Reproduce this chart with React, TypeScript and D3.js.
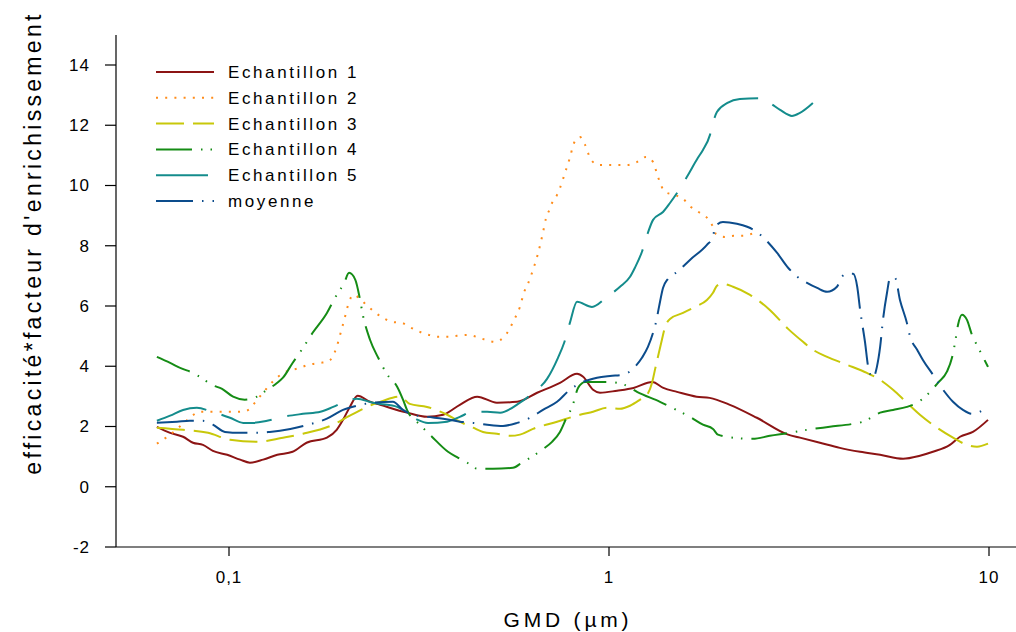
import React from "react";
import * as d3 from "d3";

const xTicks = [0.1, 1, 10];
const xTickLabels = ["0,1", "1", "10"];
const yTicks = [-2, 0, 2, 4, 6, 8, 10, 12, 14];

const seriesNames = ["Echantillon 1", "Echantillon 2", "Echantillon 3", "Echantillon 4", "Echantillon 5", "moyenne"];

const echantillon1: [number, number][] = [
  [0.0646, 1.99], [0.07, 1.79], [0.0757, 1.66], [0.0804, 1.46], [0.0854, 1.39], [0.0907, 1.19], [0.0989, 1.06],
  [0.107, 0.9], [0.1135, 0.8], [0.123, 0.9], [0.134, 1.06], [0.147, 1.16], [0.16, 1.46], [0.181, 1.63],
  [0.192, 1.89], [0.1995, 2.22], [0.208, 2.65], [0.218, 3.02], [0.235, 2.82], [0.25, 2.72], [0.294, 2.46],
  [0.332, 2.32], [0.366, 2.39], [0.405, 2.72], [0.45, 2.99], [0.507, 2.79], [0.573, 2.82], [0.647, 3.12],
  [0.743, 3.45], [0.824, 3.75], [0.855, 3.65], [0.908, 3.22], [0.947, 3.12], [1.05, 3.19], [1.16, 3.28],
  [1.3, 3.48], [1.39, 3.28], [1.51, 3.15], [1.7, 2.99], [1.84, 2.95], [2.08, 2.72], [2.45, 2.29],
  [2.96, 1.73], [3.18, 1.63], [3.59, 1.46], [4.05, 1.29], [4.58, 1.16], [5.17, 1.06], [5.94, 0.93],
  [6.58, 1.03], [7.12, 1.16], [7.89, 1.39], [8.39, 1.66], [9.07, 1.82], [9.94, 2.22],
];

const echantillon2: [number, number][] = [
  [0.0646, 1.43], [0.0683, 1.63], [0.0721, 1.86], [0.0752, 2.06], [0.0789, 2.29], [0.0839, 2.49], [0.0936, 2.49],
  [0.105, 2.49], [0.111, 2.52], [0.117, 2.79], [0.121, 3.02], [0.126, 3.28], [0.131, 3.52], [0.138, 3.75],
  [0.154, 3.95], [0.162, 4.05], [0.173, 4.11], [0.182, 4.15], [0.192, 4.64], [0.197, 5.14], [0.202, 5.64],
  [0.207, 6.14], [0.213, 6.37], [0.221, 6.24], [0.231, 6.01], [0.254, 5.61], [0.27, 5.47], [0.285, 5.44],
  [0.301, 5.28], [0.318, 5.14], [0.336, 5.04], [0.357, 4.98], [0.377, 4.98], [0.398, 5.01], [0.423, 5.04],
  [0.447, 4.98], [0.472, 4.88], [0.501, 4.81], [0.53, 4.98], [0.546, 5.21], [0.559, 5.47], [0.573, 5.74],
  [0.583, 5.97], [0.597, 6.44], [0.612, 6.74], [0.631, 7.2], [0.65, 7.73], [0.67, 8.43], [0.683, 8.92],
  [0.695, 9.16], [0.708, 9.42], [0.73, 9.69], [0.743, 9.92], [0.766, 10.42], [0.789, 10.92], [0.809, 11.41],
  [0.839, 11.61], [0.865, 11.35], [0.897, 10.85], [0.941, 10.68], [0.994, 10.68], [1.056, 10.68], [1.115, 10.68],
  [1.185, 10.78], [1.251, 10.95], [1.306, 10.78], [1.345, 10.29], [1.403, 9.79], [1.483, 9.69], [1.566, 9.56],
  [1.643, 9.29], [1.735, 9.09], [1.822, 8.89], [1.878, 8.63], [1.913, 8.39], [2.02, 8.29], [2.13, 8.33],
  [2.25, 8.33], [2.44, 8.46],
];

const echantillon3: [number, number][] = [
  [0.0646, 1.96], [0.0757, 1.89], [0.0881, 1.79], [0.1006, 1.56], [0.1185, 1.49], [0.1387, 1.63], [0.1566, 1.76],
  [0.185, 2.02], [0.208, 2.36], [0.231, 2.65], [0.254, 2.85], [0.282, 2.99], [0.299, 2.75], [0.332, 2.65],
  [0.375, 2.39], [0.405, 2.16], [0.439, 1.96], [0.466, 1.82], [0.507, 1.76], [0.549, 1.69], [0.583, 1.73],
  [0.631, 1.92], [0.73, 2.16], [0.839, 2.39], [0.908, 2.49], [0.988, 2.62], [1.069, 2.59], [1.136, 2.69],
  [1.207, 2.89], [1.259, 3.05], [1.298, 3.45], [1.321, 3.88], [1.345, 4.31], [1.378, 4.88], [1.403, 5.28],
  [1.447, 5.57], [1.566, 5.77], [1.683, 5.97], [1.81, 6.2], [1.878, 6.44], [1.923, 6.67], [1.983, 6.74],
  [2.12, 6.64], [2.35, 6.37], [2.65, 5.87], [2.96, 5.24], [3.24, 4.81], [3.44, 4.55], [3.75, 4.31],
  [4.23, 4.05], [4.77, 3.78], [5.17, 3.55], [5.59, 3.22], [6.08, 2.79], [6.58, 2.39], [7.3, 1.96],
  [8.04, 1.63], [8.75, 1.39], [9.3, 1.33], [9.94, 1.43],
];

const echantillon4: [number, number][] = [
  [0.0646, 4.31], [0.07, 4.11], [0.0752, 3.92], [0.0804, 3.78], [0.0854, 3.58], [0.0902, 3.38], [0.0959, 3.25],
  [0.1025, 2.99], [0.11, 2.89], [0.1185, 2.99], [0.126, 3.22], [0.133, 3.42], [0.1387, 3.62], [0.147, 4.11],
  [0.1566, 4.61], [0.166, 5.11], [0.181, 5.77], [0.19, 6.27], [0.201, 6.77], [0.207, 7.1], [0.215, 6.87],
  [0.221, 6.24], [0.225, 5.71], [0.235, 4.88], [0.247, 4.28], [0.261, 3.72], [0.277, 3.32], [0.287, 2.89],
  [0.294, 2.55], [0.318, 2.06], [0.342, 1.66], [0.377, 1.16], [0.401, 0.96], [0.423, 0.8], [0.45, 0.6],
  [0.495, 0.6], [0.559, 0.63], [0.59, 0.8], [0.627, 1.0], [0.667, 1.23], [0.708, 1.49], [0.743, 1.82],
  [0.775, 2.32], [0.8, 2.65], [0.829, 3.28], [0.865, 3.48], [0.93, 3.48], [0.988, 3.48], [1.05, 3.45],
  [1.1, 3.38], [1.185, 3.15], [1.362, 2.82], [1.538, 2.49], [1.633, 2.32], [1.767, 2.06], [1.878, 1.92],
  [1.935, 1.73], [2.12, 1.63], [2.39, 1.59], [2.65, 1.69], [2.99, 1.79], [3.32, 1.89], [3.81, 1.99],
  [4.39, 2.09], [4.66, 2.16], [5.17, 2.46], [5.59, 2.55], [6.08, 2.65], [6.47, 2.79], [6.87, 3.05],
  [7.34, 3.45], [7.75, 3.82], [7.99, 4.28], [8.14, 4.78], [8.29, 5.38], [8.49, 5.71], [8.75, 5.54],
  [9.02, 5.04], [9.35, 4.64], [9.64, 4.31], [9.94, 3.98],
];

const echantillon5: [number, number][] = [
  [0.0646, 2.19], [0.07, 2.36], [0.0757, 2.55], [0.0823, 2.62], [0.0902, 2.49], [0.1006, 2.29], [0.109, 2.12],
  [0.1156, 2.12], [0.126, 2.19], [0.1387, 2.32], [0.1566, 2.42], [0.174, 2.49], [0.188, 2.65], [0.202, 2.82],
  [0.217, 2.92], [0.239, 2.79], [0.25, 2.75], [0.277, 2.65], [0.294, 2.46], [0.314, 2.22], [0.334, 2.12],
  [0.375, 2.16], [0.405, 2.32], [0.439, 2.49], [0.478, 2.49], [0.517, 2.46], [0.583, 2.79], [0.631, 3.12],
  [0.687, 3.58], [0.734, 4.28], [0.762, 4.78], [0.789, 5.44], [0.824, 6.14], [0.902, 5.97], [0.988, 6.3],
  [1.069, 6.64], [1.136, 6.97], [1.17, 7.27], [1.221, 7.8], [1.266, 8.43], [1.306, 8.86], [1.387, 9.12],
  [1.447, 9.42], [1.51, 9.75], [1.604, 10.29], [1.714, 10.92], [1.767, 11.18], [1.844, 11.68], [1.878, 12.08],
  [1.923, 12.44], [2.05, 12.74], [2.21, 12.87], [2.5, 12.9], [2.65, 12.74], [2.82, 12.51], [3.03, 12.31],
  [3.18, 12.41], [3.44, 12.74],
];

const moyenne: [number, number][] = [
  [0.0646, 2.12], [0.073, 2.16], [0.0789, 2.19], [0.0854, 2.19], [0.0907, 2.06], [0.0976, 1.82], [0.107, 1.79],
  [0.1185, 1.79], [0.128, 1.82], [0.145, 1.92], [0.165, 2.09], [0.181, 2.26], [0.1995, 2.55], [0.217, 2.69],
  [0.239, 2.79], [0.27, 2.82], [0.287, 2.55], [0.305, 2.39], [0.332, 2.32], [0.366, 2.26], [0.405, 2.16],
  [0.439, 2.12], [0.478, 2.06], [0.526, 2.02], [0.573, 2.12], [0.62, 2.29], [0.67, 2.55], [0.73, 2.82],
  [0.789, 3.22], [0.855, 3.48], [0.93, 3.62], [1.006, 3.68], [1.088, 3.72], [1.17, 3.98], [1.221, 4.28],
  [1.266, 4.64], [1.306, 5.11], [1.33, 5.47], [1.354, 5.97], [1.387, 6.6], [1.429, 6.9], [1.51, 7.13],
  [1.633, 7.53], [1.81, 8.03], [1.878, 8.29], [1.9, 8.63], [1.995, 8.79], [2.17, 8.73], [2.31, 8.63],
  [2.45, 8.46], [2.6, 8.16], [2.77, 7.76], [2.96, 7.27], [3.13, 6.97], [3.32, 6.77], [3.53, 6.6],
  [3.75, 6.47], [3.98, 6.64], [4.1, 6.97], [4.23, 7.07], [4.39, 7.07], [4.5, 6.64], [4.58, 5.87],
  [4.72, 4.78], [4.81, 3.98], [4.95, 3.62], [5.07, 3.98], [5.17, 4.64], [5.26, 5.54], [5.39, 6.44],
  [5.49, 6.93], [5.66, 6.93], [5.83, 6.2], [6.08, 5.44], [6.2, 4.98], [6.47, 4.55], [6.7, 4.21],
  [7.12, 3.72], [7.57, 3.22], [8.04, 2.82], [8.54, 2.55], [9.02, 2.42], [9.47, 2.49], [9.94, 2.69],
];

const seriesData = [echantillon1, echantillon2, echantillon3, echantillon4, echantillon5, moyenne];
const seriesColors = ["#8c1414", "#ff8c1a", "#c8c80a", "#158c15", "#148c8c", "#0c4c8c"];
const seriesDash = ["none", "2,7.2", "28,9", "36,9,1.5,8,1.5,9", "52,16", "37,9,1.5,9"];

const FONT = "'Liberation Sans', Arial, Helvetica, sans-serif";

export default function App() {
  const W = 1016;
  const H = 632;
  const x = d3.scaleLog().domain([0.1, 10]).range([229, 989]);
  const y = d3.scaleLinear().domain([-2, 14]).range([547, 65]);
  const plotLeft = 116;
  const plotRight = 1016;
  const plotTop = y(15);
  const plotBottom = y(-2);

  const line = d3
    .line<[number, number]>()
    .x((d) => x(d[0]))
    .y((d) => y(d[1]))
    .curve(d3.curveMonotoneX);

  const legendX1 = 156;
  const legendX2 = 214;
  const legendTextX = 228;
  const legendY0 = 72;
  const legendStep = 25.8;

  return (
    <svg
      width={W}
      height={H}
      style={{ position: "absolute", left: 0, top: 0, background: "#fff" }}
      fontFamily={FONT}
    >
      <rect x={0} y={0} width={W} height={H} fill="#fff" />
      {/* axes */}
      <line x1={plotLeft} y1={plotTop} x2={plotLeft} y2={plotBottom} stroke="#000" strokeWidth={1.2} />
      <line x1={plotLeft} y1={plotBottom} x2={plotRight} y2={plotBottom} stroke="#000" strokeWidth={1.2} />
      {yTicks.map((t) => (
        <g key={"y" + t}>
          <line x1={plotLeft - 11} x2={plotLeft} y1={y(t)} y2={y(t)} stroke="#000" strokeWidth={1.2} />
          <text x={90} y={y(t)} dy="0.35em" textAnchor="end" fontSize={17} letterSpacing={1} fill="#000">
            {t}
          </text>
        </g>
      ))}
      {xTicks.map((t, i) => (
        <g key={"x" + t}>
          <line x1={x(t)} x2={x(t)} y1={plotBottom} y2={plotBottom + 9} stroke="#000" strokeWidth={1.2} />
          <text x={x(t)} y={577} dy="0.35em" textAnchor="middle" fontSize={17} letterSpacing={1} fill="#000">
            {xTickLabels[i]}
          </text>
        </g>
      ))}
      <text x={568} y={627} textAnchor="middle" fontSize={21} letterSpacing={3.8} fill="#000">
        GMD (µm)
      </text>
      <text
        transform={`translate(41, 243) rotate(-90)`}
        textAnchor="middle"
        fontSize={23}
        letterSpacing={3.3}
        fill="#000"
      >
        efficacité*facteur d'enrichissement
      </text>

      {/* series */}
      {seriesData.map((data, i) => (
        <path
          key={"s" + i}
          d={line(data) || ""}
          fill="none"
          stroke={seriesColors[i]}
          strokeWidth={2}
          strokeDasharray={seriesDash[i]}
        />
      ))}

      {/* legend */}
      {seriesNames.map((name, i) => {
        const ly = legendY0 + i * legendStep;
        return (
          <g key={"l" + i}>
            <line
              x1={legendX1}
              x2={legendX2}
              y1={ly}
              y2={ly}
              stroke={seriesColors[i]}
              strokeWidth={2}
              strokeDasharray={seriesDash[i]}
            />
            <text x={legendTextX} y={ly} dy="0.35em" fontSize={17} letterSpacing={2.6} fill="#000">
              {name}
            </text>
          </g>
        );
      })}
    </svg>
  );
}
